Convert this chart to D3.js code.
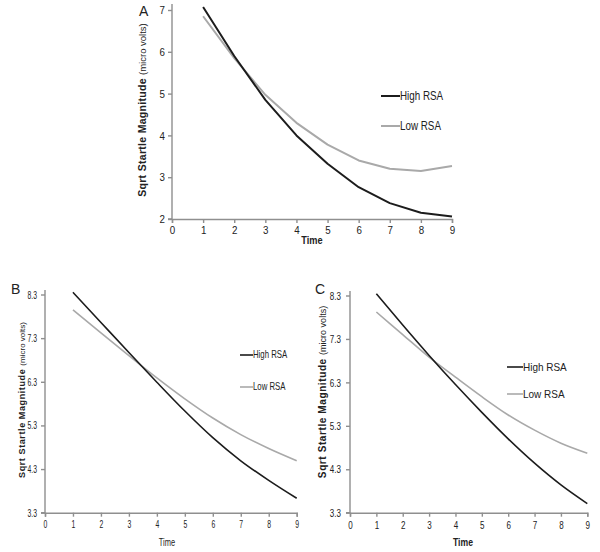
<!DOCTYPE html>
<html><head><meta charset="utf-8">
<script src="https://cdn.jsdelivr.net/npm/d3@7"></script>
<style>
body{margin:0;background:#fff;}
svg{display:block;}
text{font-family:"Liberation Sans",Arial,sans-serif;fill:#222;}
</style></head>
<body>
<script>
// Data
const times = [1,2,3,4,5,6,7,8,9];
const xTicks = [0,1,2,3,4,5,6,7,8,9];
const seriesNames = ["High RSA","Low RSA"];
const panelAHigh = [7.07,5.90,4.85,4.00,3.32,2.76,2.38,2.15,2.06];
const panelALow  = [6.85,5.85,4.97,4.30,3.78,3.40,3.20,3.15,3.27];
const panelATicks = [2,3,4,5,6,7];
const panelBHigh = [8.35,7.66,6.97,6.29,5.63,5.02,4.49,4.04,3.63];
const panelBLow  = [7.95,7.42,6.90,6.39,5.91,5.47,5.09,4.77,4.49];
const panelCHigh = [8.34,7.62,6.92,6.25,5.61,5.00,4.44,3.94,3.51];
const panelCLow  = [7.92,7.40,6.88,6.42,5.97,5.55,5.20,4.90,4.67];
const panelBCTicks = [3.3,4.3,5.3,6.3,7.3,8.3];

const W=600,H=552;
const svg=d3.select("body").append("svg").attr("width",W).attr("height",H);
const colors={"High RSA":"#1c1c1c","Low RSA":"#a9a9a9"};

function condense(sel,s){
  sel.each(function(){
    const t=d3.select(this);
    const x=+t.attr("x")||0;
    t.attr("x",x/s).attr("transform",`scale(${s},1)`);
  });
}

function panel(o){
  const x=d3.scaleLinear().domain([0,9]).range([o.x0,o.x1]);
  const y=d3.scaleLinear().domain(o.ydom).range([o.y0,o.y1]);
  const g=svg.append("g");
  const xa=g.append("g").attr("transform",`translate(0,${o.y0})`)
    .call(d3.axisBottom(x).tickValues(xTicks).tickFormat(d3.format("d")).tickSize(4).tickPadding(o.xPad));
  const ya=g.append("g").attr("transform",`translate(${o.x0},0)`)
    .call(d3.axisLeft(y).tickValues(o.yticks).tickFormat(o.yfmt).tickSize(4).tickPadding(o.yPad));
  [xa,ya].forEach(a=>{
    a.selectAll("path,line").attr("stroke","#8f8f8f").attr("stroke-width",1.4);
    a.selectAll("text").style("font-size",o.tickFs+"px").attr("fill","#222");
    condense(a.selectAll("text"),o.tickSx);
  });
  ya.select("path.domain").attr("d",`M-4,${o.y0}H0V${o.yTop}`);
  const line=d3.line().x((d,i)=>x(times[i])).y(d=>y(d)).curve(o.curve);
  [[o.low,"Low RSA"],[o.high,"High RSA"]].forEach(([data,name])=>{
    g.append("path").datum(data).attr("d",line).attr("fill","none")
      .attr("stroke",colors[name]).attr("stroke-width",o.lw).attr("stroke-linejoin","round");
  });
  seriesNames.forEach((name,i)=>{
    const ly=o.legY[i];
    g.append("line").attr("x1",o.legX).attr("x2",o.legX+o.legLen).attr("y1",ly).attr("y2",ly)
      .attr("stroke",colors[name]).attr("stroke-width",o.lw);
    const t=g.append("text").attr("x",o.legX+o.legLen).attr("y",ly).attr("dy","0.35em")
      .style("font-size",o.legFs+"px").text(name);
    condense(t,o.legSx);
  });
  const tt=g.append("text").attr("x",o.timeX).attr("y",o.timeY).attr("text-anchor","middle")
    .attr("dy","0.35em").style("font-size",o.timeFs+"px").style("font-weight",o.timeBold?"bold":"normal").text("Time");
  condense(tt,o.timeSx);
  const yt=g.append("text").attr("transform",`translate(${o.ylabX},${o.ylabY}) rotate(-90)`)
    .attr("text-anchor","middle").attr("dy","0.35em");
  yt.append("tspan").style("font-weight","bold").style("font-size",o.ylabFs+"px")
    .style("letter-spacing",o.ylabLs+"px").text("Sqrt Startle Magnitude ");
  yt.append("tspan").style("font-size",(o.ylabFs-1)+"px").text("(micro volts)");
  g.append("text").attr("x",o.letX).attr("y",o.letY).style("font-size","14px").text(o.letter);
}

panel({letter:"A",letX:139,letY:16,x0:172,x1:452,y0:219,y1:10,yTop:4,ydom:[2,7],yticks:panelATicks,
  yfmt:d3.format("d"),high:panelAHigh,low:panelALow,curve:d3.curveLinear,lw:2,xPad:3,yPad:3,
  tickFs:11.5,tickSx:0.85,legFs:12,legSx:0.82,legX:381,legLen:19,legY:[96,126],
  timeX:312,timeY:240,timeFs:11.5,timeBold:true,timeSx:0.8,
  ylabX:140,ylabY:110,ylabFs:10.5,ylabLs:0.3});
panel({letter:"B",letX:11,letY:294,x0:45,x1:296.7,y0:512.7,y1:294.5,yTop:290,ydom:[3.3,8.3],yticks:panelBCTicks,
  yfmt:d3.format(".1f"),high:panelBHigh,low:panelBLow,curve:d3.curveMonotoneX,lw:1.6,xPad:4,yPad:4,
  tickFs:11,tickSx:0.62,legFs:10,legSx:0.78,legX:240,legLen:13,legY:[355,387],
  timeX:167,timeY:542,timeFs:11,timeBold:false,timeSx:0.68,
  ylabX:19,ylabY:400,ylabFs:9,ylabLs:0.6});
panel({letter:"C",letX:315,letY:294,x0:350,x1:587.3,y0:512.7,y1:295.5,yTop:291,ydom:[3.3,8.3],yticks:panelBCTicks,
  yfmt:d3.format(".1f"),high:panelCHigh,low:panelCLow,curve:d3.curveMonotoneX,lw:1.6,xPad:4,yPad:5,
  tickFs:11.5,tickSx:0.7,legFs:10.5,legSx:0.95,legX:507,legLen:16,legY:[367,394],
  timeX:463,timeY:542,timeFs:11.5,timeBold:true,timeSx:0.75,
  ylabX:320,ylabY:392,ylabFs:10,ylabLs:0.6});
</script>
</body></html>
